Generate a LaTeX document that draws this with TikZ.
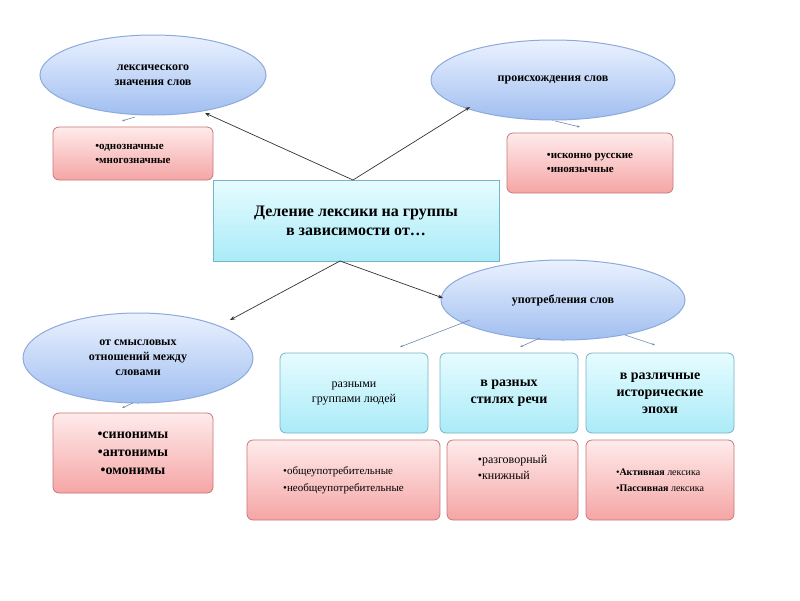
\documentclass[tikz,border=0pt]{standalone}
\usepackage{fontspec}
\setmainfont{Liberation Serif}
\usetikzlibrary{shapes.geometric,arrows.meta}
\definecolor{ebord}{RGB}{140,170,220}
\definecolor{etop}{RGB}{235,242,255}
\definecolor{ebot}{RGB}{160,190,240}
\definecolor{ptop}{RGB}{255,235,235}
\definecolor{pbot}{RGB}{245,165,165}
\definecolor{pbord}{RGB}{200,120,120}
\definecolor{ctop}{RGB}{230,252,255}
\definecolor{cbot}{RGB}{170,235,248}
\definecolor{cbord}{RGB}{120,180,200}
\begin{document}
\begin{tikzpicture}[x=1pt,y=-1pt,
 ell/.style={ellipse,draw=ebord,line width=1pt,top color=etop,bottom color=ebot,align=center,font=\bfseries\fontsize{12}{15}\selectfont,inner sep=0pt},
 pbox/.style={rectangle,rounded corners=6pt,draw=pbord,line width=0.8pt,top color=ptop,bottom color=pbot,align=left},
 cbox/.style={rectangle,rounded corners=6pt,draw=cbord,line width=0.8pt,top color=ctop,bottom color=cbot,align=center},
 blk/.style={-{Stealth[length=5pt]},black!80,line width=0.7pt},
 bl/.style={-{Stealth[length=3pt]},ebord!80!black,line width=0.6pt}]
\useasboundingbox[fill=white] (0,0) rectangle (800,600);
\node[ell,minimum width=226pt,minimum height=80pt] (e1) at (153,75) {лексического\\значения слов};
\node[ell,minimum width=244pt,minimum height=80pt] (e2) at (553,80) {происхождения слов};
\node[ell,minimum width=244pt,minimum height=80pt] (e3) at (563,300) {употребления слов};
\node[ell,minimum width=230pt,minimum height=90pt] (e4) at (138,358) {от смысловых\\отношений между\\словами};
\node[rectangle,draw=cbord,line width=1pt,top color=ctop,bottom color=cbot,minimum width=286pt,minimum height=81pt,align=center,font=\bfseries\fontsize{16}{19}\selectfont] (c) at (356,220.5) {Деление лексики на группы\\в зависимости от…};
\node[pbox,minimum width=160pt,minimum height=53pt,font=\bfseries\fontsize{11}{14}\selectfont] (p1) at (133,153.5) {•однозначные\\•многозначные};
\node[pbox,minimum width=166pt,minimum height=60pt,font=\bfseries\fontsize{11}{14}\selectfont] (p2) at (590,163) {•исконно русские\\•иноязычные};
\node[pbox,minimum width=160pt,minimum height=80pt,align=center,font=\bfseries\fontsize{14}{18}\selectfont] (p3) at (133,453) {•синонимы\\•антонимы\\•омонимы};
\node[cbox,minimum width=148pt,minimum height=80pt,font=\fontsize{12}{15}\selectfont] (b1) at (354,393) {разными\\группами людей};
\node[cbox,minimum width=138pt,minimum height=80pt,font=\bfseries\fontsize{14}{17}\selectfont] (b2) at (509,393) {в разных\\стилях речи};
\node[cbox,minimum width=148pt,minimum height=80pt,font=\bfseries\fontsize{14}{17}\selectfont] (b3) at (660,393) {в различные\\исторические\\эпохи};
\node[pbox,minimum width=193pt,minimum height=80pt,font=\fontsize{11}{17}\selectfont] (q1) at (343.5,480) {•общеупотребительные\\•необщеупотребительные};
\node[pbox,minimum width=131pt,minimum height=80pt,font=\fontsize{12}{16}\selectfont] (q2) at (512.5,480) {•разговорный\\•книжный\\[10pt]};
\node[pbox,minimum width=148pt,minimum height=80pt,font=\fontsize{10}{16}\selectfont] (q3) at (660,480) {•\textbf{Активная} лексика\\•\textbf{Пассивная} лексика};
\coordinate (ct) at (353,180);
\coordinate (cb) at (340,261);
\coordinate (t1) at (205,113); \coordinate (t2) at (470,107);
\coordinate (t4) at (230,320); \coordinate (t3) at (443,298);
\draw[blk] (ct) -- (t1);
\draw[blk] (ct) -- (t2);
\draw[blk] (cb) -- (t4);
\draw[blk] (cb) -- (t3);
\coordinate (s1) at (135,117); \coordinate (a1) at (122,121);
\coordinate (s2) at (555,121); \coordinate (a2) at (580,127);
\coordinate (s3) at (470,320); \coordinate (a3) at (400,347);
\coordinate (s4) at (540,338); \coordinate (a4) at (520,347);
\coordinate (s5) at (625,335); \coordinate (a5) at (655,345);
\coordinate (s6) at (133,403); \coordinate (a6) at (122,408);
\draw[bl] (s1) -- (a1);
\draw[bl] (s2) -- (a2);
\draw[bl] (s3) -- (a3);
\draw[bl] (s4) -- (a4);
\draw[bl] (s5) -- (a5);
\draw[bl] (s6) -- (a6);
\end{tikzpicture}
\end{document}
